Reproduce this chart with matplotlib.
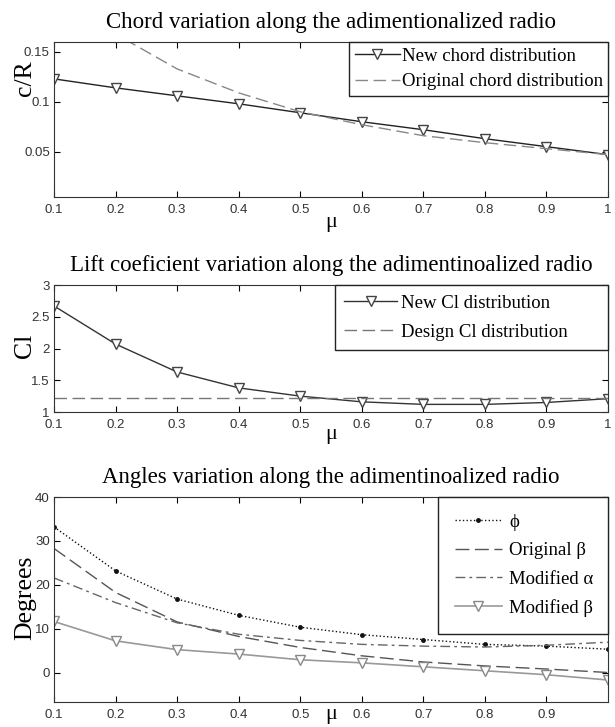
import numpy as np
import matplotlib
matplotlib.use("Agg")
import matplotlib.pyplot as plt

# radial stations (adimensional radius)
mu = [0.1, 0.2, 0.3, 0.4, 0.5, 0.6, 0.7, 0.8, 0.9, 1.0]

# chord distribution c/R
chord_new = [0.123, 0.114, 0.106, 0.098, 0.089, 0.080, 0.072, 0.063, 0.055, 0.047]
chord_orig = [0.250, 0.168, 0.133, 0.109, 0.090, 0.077, 0.066, 0.059, 0.053, 0.047]

# lift coefficient
cl_new = [2.67, 2.07, 1.63, 1.38, 1.25, 1.16, 1.12, 1.12, 1.15, 1.21]
cl_design = [1.22] * len(mu)

# angles (degrees)
phi = [33.2, 23.2, 16.8, 13.1, 10.4, 8.7, 7.6, 6.5, 6.1, 5.4]
beta_orig = [28.3, 18.3, 11.6, 8.3, 5.8, 3.9, 2.5, 1.6, 0.9, 0.1]
alpha_mod = [21.6, 16.0, 11.4, 8.8, 7.4, 6.5, 6.1, 5.9, 6.3, 7.0]
beta_mod = [11.7, 7.3, 5.3, 4.3, 3.0, 2.3, 1.4, 0.5, -0.4, -1.6]

xlabels_full = ["0.1", "0.2", "0.3", "0.4", "0.5", "0.6", "0.7", "0.8", "0.9", "1"]

serif = ["Liberation Serif", "DejaVu Serif"]
sans = ["Liberation Sans", "DejaVu Sans"]
plt.rcParams["font.family"] = sans

fig = plt.figure(figsize=(6.15, 7.27), dpi=100)
W, H = 615.0, 727.0
LEFT, RIGHT = 54, 608


def make_axes(top, bottom):
    return fig.add_axes([LEFT / W, 1 - bottom / H, (RIGHT - LEFT) / W, (bottom - top) / H])


def px_text(x, y, s, **kw):
    # place text by pixel position measured from the top-left corner
    fig.text(x / W, 1 - y / H, s, ha="center", va="center", **kw)


def style(ax, title):
    ax.set_title(title, family=serif, fontsize=16.5, pad=10)
    ax.tick_params(direction="in", top=True, right=True, labelsize=9.5,
                   labelcolor="#333333", length=4)
    ax.tick_params(axis="x", pad=5)
    ax.tick_params(axis="y", pad=3)
    for s in ax.spines.values():
        s.set_color("#333333")


def add_legend(ax, box_left, **kw):
    # legend box spans from box_left (pixels) to the right spine, MATLAB style
    x0 = (box_left - LEFT) / (RIGHT - LEFT)
    ax.legend(loc="upper left", bbox_to_anchor=(x0, 0, 1 - x0, 1), mode="expand",
              borderaxespad=0, fancybox=False, framealpha=1, edgecolor="#222222",
              prop={"family": serif, "size": 13.5}, **kw)


tri = dict(marker="v", markersize=7, markerfacecolor="white")

# --- chord ---
ax1 = make_axes(42, 197)
ax1.plot(mu, chord_new, color="#222222", lw=1, markeredgecolor="#444444",
         label="New chord distribution", **tri)
ax1.plot(mu, chord_orig, color="#888888", lw=1, dashes=(9, 4),
         label="Original chord distribution")
ax1.set_xlim(0.1, 1.0)
ax1.set_ylim(0.0045, 0.16)
ax1.set_xticks(mu)
ax1.set_xticklabels(xlabels_full)
ax1.set_yticks([0.05, 0.1, 0.15])
ax1.set_yticklabels(["0.05", "0.1", "0.15"])
style(ax1, "Chord variation along the adimentionalized radio")
add_legend(ax1, 349, handlelength=2.4, handletextpad=0.15, labelspacing=0.45, borderpad=0.3)
px_text(25, 78, "c/R", family=serif, fontsize=18.5, rotation=90)
px_text(331, 223, "\u03bc", family=serif, fontsize=16)

# --- lift coefficient ---
ax2 = make_axes(285, 412)
ax2.plot(mu, cl_new, color="#333333", lw=1, markeredgecolor="#444444",
         label="New Cl distribution", **tri)
ax2.plot(mu, cl_design, color="#777777", lw=1, dashes=(9, 4),
         label="Design Cl distribution")
ax2.set_xlim(0.1, 1.0)
ax2.set_ylim(1, 3)
ax2.set_xticks(mu)
ax2.set_xticklabels(xlabels_full)
ax2.set_yticks([1, 1.5, 2, 2.5, 3])
ax2.set_yticklabels(["1", "1.5", "2", "2.5", "3"])
style(ax2, "Lift coeficient variation along the adimentinoalized radio")
add_legend(ax2, 335, handlelength=2.8, handletextpad=0.2, labelspacing=0.65, borderpad=0.5)
px_text(25, 346, "Cl", family=serif, fontsize=18.5, rotation=90)
px_text(331, 434, "\u03bc", family=serif, fontsize=16)

# --- angles ---
ax3 = make_axes(497, 702)
ax3.plot(mu, phi, color="#111111", lw=1, ls=":", marker=".", markersize=5,
         label="\u03d5")
ax3.plot(mu, beta_orig, color="#555555", lw=1, dashes=(10, 4),
         label="Original \u03b2")
ax3.plot(mu, alpha_mod, color="#666666", lw=1, dashes=(7, 3, 2, 3),
         label="Modified \u03b1")
ax3.plot(mu, beta_mod, color="#999999", lw=1.2, markeredgecolor="#888888",
         label="Modified \u03b2", **tri)
ax3.set_xlim(0.1, 1.0)
ax3.set_ylim(-6.6, 40)
ax3.set_xticks(mu[:-1])
ax3.set_xticklabels(xlabels_full[:-1])
ax3.set_yticks([0, 10, 20, 30, 40])
style(ax3, "Angles variation along the adimentinoalized radio")
add_legend(ax3, 438, handlelength=2.5, handletextpad=0.4, labelspacing=0.6, borderpad=0.9)
px_text(25, 598, "Degrees", family=serif, fontsize=18.5, rotation=90)
px_text(331, 714, "\u03bc", family=serif, fontsize=16)

fig.savefig("out.png", dpi=100)
